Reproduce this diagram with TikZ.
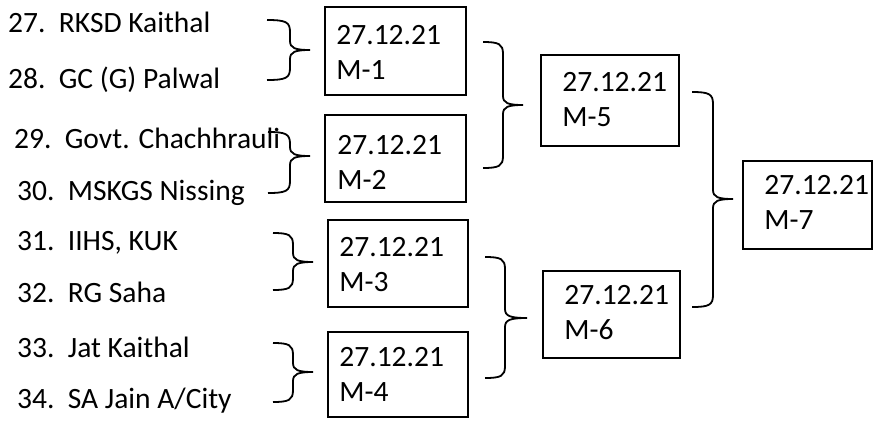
\documentclass[tikz,border=0pt]{standalone}
\usepackage{fontspec}
\setmainfont{Carlito}
\newcommand\mybrace[6]{% x0 xv xt ytop ymid ybot
  \draw[bracestyle] (#1,#4) .. controls (#2-4,#4) and (#2,#4+2) .. (#2,#4+12)
    -- (#2,#5-9) .. controls (#2,#5-2) and (#2+5,#5) .. (#3,#5)
    .. controls (#2+5,#5) and (#2,#5+2) .. (#2,#5+9)
    -- (#2,#6-12) .. controls (#2,#6-2) and (#2-4,#6) .. (#1,#6);}
\begin{document}
\begin{tikzpicture}[x=1pt,y=-1pt,
  lbl/.style={anchor=base west,inner sep=0pt,font=\fontsize{29.5}{35}\selectfont},
  boxtxt/.style={anchor=base west,inner sep=0pt,align=left,font=\fontsize{29.5}{35}\selectfont},
  match/.style={draw,line width=1.6pt,rectangle,inner sep=0pt},
  bracestyle/.style={line width=1.8pt}]
\useasboundingbox (0,0) rectangle (875,421);
% team labels
\node[lbl] (t27) at (8,32) {27.\ \ RKSD Kaithal};
\node[lbl] (t28) at (8,88) {28.\ \ GC (G) Palwal};
\node[lbl] (t29) at (14,148) {29.\ \ Govt. Chachhrauli};
\node[lbl] (t30) at (17,200) {30.\ \ MSKGS Nissing};
\node[lbl] (t31) at (17,250) {31.\ \ IIHS, KUK};
\node[lbl] (t32) at (17,302) {32.\ \ RG Saha};
\node[lbl] (t33) at (17,357) {33.\ \ Jat Kaithal};
\node[lbl] (t34) at (17,408) {34.\ \ SA Jain A/City};
% match boxes
\node[match,minimum width=141pt,minimum height=88pt] (m1) at (395.5,51) {};
\node[match,minimum width=141pt,minimum height=87pt] (m2) at (395.5,158.5) {};
\node[match,minimum width=140pt,minimum height=87pt] (m3) at (398,263.5) {};
\node[match,minimum width=140pt,minimum height=85pt] (m4) at (398,374.5) {};
\node[match,minimum width=138pt,minimum height=91pt] (m5) at (610,100.5) {};
\node[match,minimum width=137pt,minimum height=87pt] (m6) at (611.5,314.5) {};
\node[match,minimum width=129pt,minimum height=88pt] (m7) at (807.5,205) {};
% box texts (anchor at baseline of last line)
\node[boxtxt] (d1) at ([shift={(12,73)}]m1.north west) {27.12.21\\M-1};
\node[boxtxt] (d2) at ([shift={(13,75)}]m2.north west) {27.12.21\\M-2};
\node[boxtxt] (d3) at ([shift={(12,72)}]m3.north west) {27.12.21\\M-3};
\node[boxtxt] (d4) at ([shift={(12,70)}]m4.north west) {27.12.21\\M-4};
\node[boxtxt] (d5) at ([shift={(22,72)}]m5.north west) {27.12.21\\M-5};
\node[boxtxt] (d6) at ([shift={(22,69)}]m6.north west) {27.12.21\\M-6};
\node[boxtxt] (d7) at ([shift={(22,69)}]m7.north west) {27.12.21\\M-7};
% braces
\mybrace{267}{290}{310}{20}{50}{80}
\mybrace{268}{290}{310}{132}{156}{193}
\mybrace{273}{293}{313}{233}{262}{290}
\mybrace{273}{293}{313}{343}{372}{402}
\mybrace{483}{503}{523}{42}{105}{168}
\mybrace{485}{505}{527}{257}{318}{378}
\mybrace{692}{713}{733}{92}{199}{307}
\end{tikzpicture}
\end{document}
